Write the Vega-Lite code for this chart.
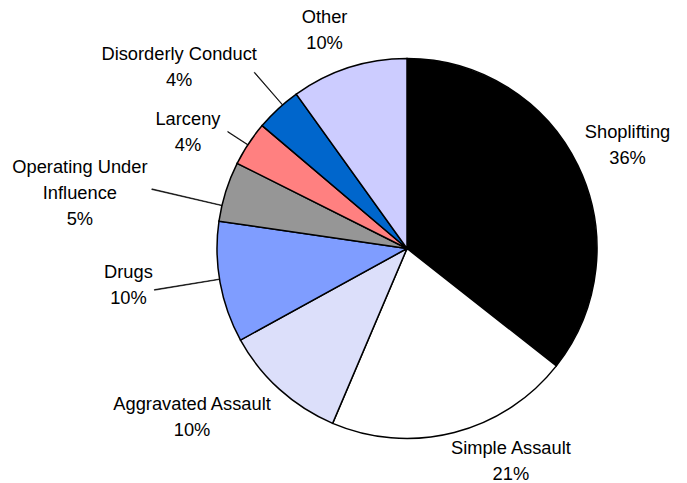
{
  "$schema": "https://vega.github.io/schema/vega-lite/v6.json",
  "width": 560,
  "height": 469,
  "autosize": "none",
  "padding": {"left": 127, "top": 14, "right": 0, "bottom": 0},
  "background": "white",
  "config": {"view": {"stroke": null}},
  "data": {
    "values": [
      {"crime": "Shoplifting", "value": 35.6, "label": "Shoplifting\n36%", "order": 1},
      {"crime": "Simple Assault", "value": 20.8, "label": "Simple Assault\n21%", "order": 2},
      {"crime": "Aggravated Assault", "value": 10.6, "label": "Aggravated Assault\n10%", "order": 3},
      {"crime": "Drugs", "value": 10.3, "label": "Drugs\n10%", "order": 4},
      {"crime": "Operating Under Influence", "value": 5.1, "label": "Operating Under\nInfluence\n5%", "order": 5},
      {"crime": "Larceny", "value": 3.8, "label": "Larceny\n4%", "order": 6},
      {"crime": "Disorderly Conduct", "value": 3.9, "label": "Disorderly Conduct\n4%", "order": 7},
      {"crime": "Other", "value": 9.9, "label": "Other\n10%", "order": 8}
    ]
  },
  "encoding": {
    "theta": {"field": "value", "type": "quantitative", "stack": true},
    "order": {"field": "order", "type": "quantitative"}
  },
  "layer": [
    {
      "mark": {"type": "arc", "outerRadius": 190, "stroke": "black", "strokeWidth": 1.5},
      "encoding": {
        "color": {
          "field": "crime", "type": "nominal", "legend": null,
          "scale": {
            "domain": ["Shoplifting", "Simple Assault", "Aggravated Assault", "Drugs", "Operating Under Influence", "Larceny", "Disorderly Conduct", "Other"],
            "range": ["#000000", "#ffffff", "#dcdffa", "#7f9dff", "#969696", "#ff8080", "#0066cc", "#ccccff"]
          }
        }
      }
    },
    {
      "transform": [{"stack": "value", "groupby": [], "sort": [{"field": "order"}], "as": ["v0", "v1"]}],
      "layer": [
        {"mark": {"type": "arc", "innerRadius": 190, "outerRadius": 256, "thetaOffset": 0.3386, "theta2Offset": -0.3056, "fill": "black", "stroke": "black", "strokeWidth": 0.6},
         "encoding": {"theta": {"field": "v0", "type": "quantitative", "stack": null}, "theta2": {"field": "v1"}, "opacity": {"condition": {"test": "datum.crime === 'Drugs'", "value": 1}, "value": 0}}},
        {"mark": {"type": "arc", "innerRadius": 190, "outerRadius": 262, "thetaOffset": 0.0824, "theta2Offset": -0.2350, "fill": "black", "stroke": "black", "strokeWidth": 0.6},
         "encoding": {"theta": {"field": "v0", "type": "quantitative", "stack": null}, "theta2": {"field": "v1"}, "opacity": {"condition": {"test": "datum.crime === 'Operating Under Influence'", "value": 1}, "value": 0}}},
        {"mark": {"type": "arc", "innerRadius": 190, "outerRadius": 214, "thetaOffset": 0.1110, "theta2Offset": -0.1248, "fill": "black", "stroke": "black", "strokeWidth": 0.6},
         "encoding": {"theta": {"field": "v0", "type": "quantitative", "stack": null}, "theta2": {"field": "v1"}, "opacity": {"condition": {"test": "datum.crime === 'Larceny'", "value": 1}, "value": 0}}},
        {"mark": {"type": "arc", "innerRadius": 190, "outerRadius": 233, "thetaOffset": 0.1515, "theta2Offset": -0.0906, "fill": "black", "stroke": "black", "strokeWidth": 0.6},
         "encoding": {"theta": {"field": "v0", "type": "quantitative", "stack": null}, "theta2": {"field": "v1"}, "opacity": {"condition": {"test": "datum.crime === 'Disorderly Conduct'", "value": 1}, "value": 0}}}
      ]
    },
    {"mark": {"type": "text", "radius": 243, "thetaOffset": 0.019, "dy": -13, "font": "Liberation Sans", "fontSize": 18.3, "lineHeight": 26, "lineBreak": "\n", "align": "center", "baseline": "middle", "color": "black"},
     "encoding": {"text": {"condition": {"test": "datum.crime === 'Shoplifting'", "field": "label", "type": "nominal"}, "value": ""}}},
    {"mark": {"type": "text", "radius": 237, "thetaOffset": -0.2025, "dy": -13, "font": "Liberation Sans", "fontSize": 18.3, "lineHeight": 26, "lineBreak": "\n", "align": "center", "baseline": "middle", "color": "black"},
     "encoding": {"text": {"condition": {"test": "datum.crime === 'Simple Assault'", "field": "label", "type": "nominal"}, "value": ""}}},
    {"mark": {"type": "text", "radius": 273.5, "thetaOffset": 0.169, "dy": -13, "font": "Liberation Sans", "fontSize": 18.3, "lineHeight": 26, "lineBreak": "\n", "align": "center", "baseline": "middle", "color": "black"},
     "encoding": {"text": {"condition": {"test": "datum.crime === 'Aggravated Assault'", "field": "label", "type": "nominal"}, "value": ""}}},
    {"mark": {"type": "text", "radius": 281, "thetaOffset": 0.047, "dy": -13, "font": "Liberation Sans", "fontSize": 18.3, "lineHeight": 26, "lineBreak": "\n", "align": "center", "baseline": "middle", "color": "black"},
     "encoding": {"text": {"condition": {"test": "datum.crime === 'Drugs'", "field": "label", "type": "nominal"}, "value": ""}}},
    {"mark": {"type": "text", "radius": 331.6, "thetaOffset": -0.140, "dy": -26, "font": "Liberation Sans", "fontSize": 18.3, "lineHeight": 26, "lineBreak": "\n", "align": "center", "baseline": "middle", "color": "black"},
     "encoding": {"text": {"condition": {"test": "datum.crime === 'Operating Under Influence'", "field": "label", "type": "nominal"}, "value": ""}}},
    {"mark": {"type": "text", "radius": 247.8, "thetaOffset": -0.098, "dy": -13, "font": "Liberation Sans", "fontSize": 18.3, "lineHeight": 26, "lineBreak": "\n", "align": "center", "baseline": "middle", "color": "black"},
     "encoding": {"text": {"condition": {"test": "datum.crime === 'Larceny'", "field": "label", "type": "nominal"}, "value": ""}}},
    {"mark": {"type": "text", "radius": 290.5, "thetaOffset": -0.157, "dy": -13, "font": "Liberation Sans", "fontSize": 18.3, "lineHeight": 26, "lineBreak": "\n", "align": "center", "baseline": "middle", "color": "black"},
     "encoding": {"text": {"condition": {"test": "datum.crime === 'Disorderly Conduct'", "field": "label", "type": "nominal"}, "value": ""}}},
    {"mark": {"type": "text", "radius": 234, "thetaOffset": -0.049, "dy": -12, "font": "Liberation Sans", "fontSize": 18.3, "lineHeight": 26, "lineBreak": "\n", "align": "center", "baseline": "middle", "color": "black"},
     "encoding": {"text": {"condition": {"test": "datum.crime === 'Other'", "field": "label", "type": "nominal"}, "value": ""}}}
  ]
}
